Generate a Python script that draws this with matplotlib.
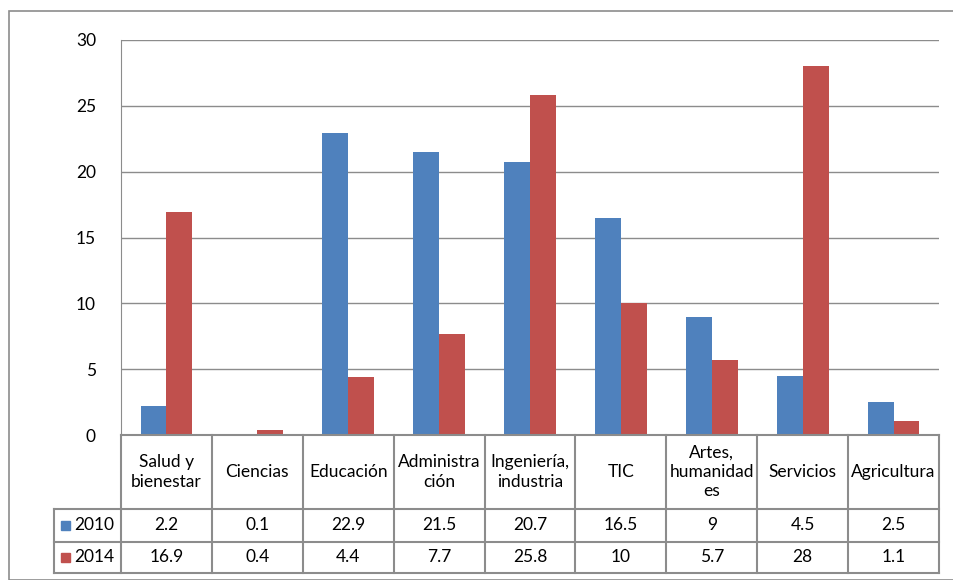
import matplotlib
matplotlib.use("Agg")
from matplotlib import pyplot as plt
from matplotlib.patches import Rectangle
import numpy as np

matplotlib.rcParams['font.family'] = ['Lato', 'DejaVu Sans']
matplotlib.rcParams['font.size'] = 12.5

categories = ["Salud y\nbienestar", "Ciencias", "Educación", "Administra\nción",
              "Ingeniería,\nindustria", "TIC", "Artes,\nhumanidad\nes", "Servicios", "Agricultura"]
series = ["2010", "2014"]
v2010 = [2.2, 0.1, 22.9, 21.5, 20.7, 16.5, 9, 4.5, 2.5]
v2014 = [16.9, 0.4, 4.4, 7.7, 25.8, 10, 5.7, 28, 1.1]
colors = ["#4F81BD", "#C0504D"]

W, H = 954, 580
fig = plt.figure(figsize=(W / 100, H / 100), dpi=100)

# outer chart border (pixel coords)
fig.add_artist(Rectangle((9 / W, 0), (W - 9) / W + 0.01, 1 - 11 / H, transform=fig.transFigure,
                         fill=False, edgecolor="#8c8c8c", linewidth=1.2))

x0, x1 = 121, 939
y_top, y_zero, y_bot = 40, 435, 573
ax = fig.add_axes([x0 / W, 1 - y_zero / H, (x1 - x0) / W, (y_zero - y_top) / H])

n = len(categories)
x = np.arange(n)
bw = 0.285
ax.bar(x - bw / 2, v2010, bw, color=colors[0], zorder=3)
ax.bar(x + bw / 2, v2014, bw, color=colors[1], zorder=3)
ax.set_xlim(-0.5, n - 0.5)
ax.set_ylim(0, 30)
ax.set_yticks([0, 5, 10, 15, 20, 25, 30])
ax.grid(axis='y', color="#8c8c8c", linewidth=1, zorder=0)
ax.set_xticks([])
for s in ["top", "right", "bottom"]:
    ax.spines[s].set_visible(False)
ax.spines["left"].set_color("#8c8c8c")
ax.tick_params(axis='y', length=0, pad=18, labelsize=12.5)

# data table below the plot
tax = fig.add_axes([x0 / W, 1 - y_bot / H, (x1 - x0) / W, (y_bot - y_zero) / H], sharex=ax)
tax.set_ylim(y_bot - y_zero, 0)
tax.axis("off")
rows = [0, 74, 107, 138]
leg_left = -0.5 - (x0 - 54) / 91.0
lc = "#8c8c8c"
# horizontal lines
tax.plot([-0.5, n - 0.5], [rows[0], rows[0]], color=lc, lw=1.5, clip_on=False)
for r in rows[1:]:
    tax.plot([leg_left, n - 0.5], [r, r], color=lc, lw=1.5, clip_on=False)
# vertical lines
for i in range(n + 1):
    tax.plot([i - 0.5, i - 0.5], [rows[0], rows[3]], color=lc, lw=1.5, clip_on=False)
tax.plot([leg_left, leg_left], [rows[1], rows[3]], color=lc, lw=1.5, clip_on=False)

for i, c in enumerate(categories):
    tax.text(i, (rows[0] + rows[1]) / 2, c, ha="center", va="center", fontsize=12.5,
             linespacing=1.25, clip_on=False)
for k, vals in enumerate([v2010, v2014]):
    yc = (rows[k + 1] + rows[k + 2]) / 2
    for i, v in enumerate(vals):
        tax.text(i, yc, f"{v:g}", ha="center", va="center", fontsize=12.5, clip_on=False)
    tax.add_patch(Rectangle((leg_left + 0.08, yc - 4.5), 0.1, 9, color=colors[k], clip_on=False))
    tax.text(leg_left + 0.22, yc, series[k], ha="left", va="center", fontsize=12.5, clip_on=False)

fig.savefig("out.png", dpi=100)
